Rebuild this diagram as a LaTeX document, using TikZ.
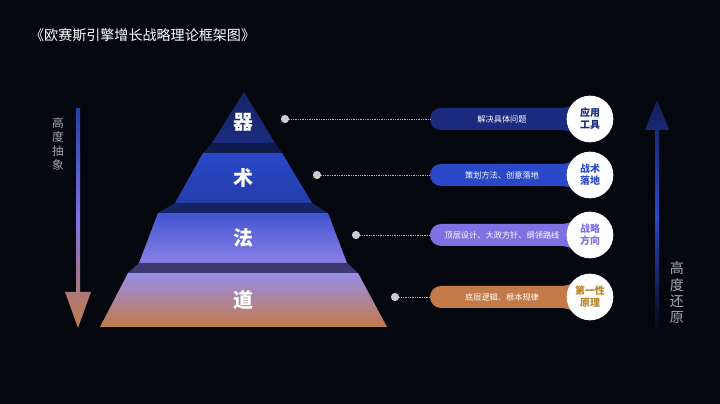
\documentclass[tikz,border=0pt]{standalone}
\usepackage{fontspec}
\setmainfont{Noto Sans CJK SC}
\usetikzlibrary{positioning}
\definecolor{bgc}{HTML}{05070F}
\definecolor{navy}{HTML}{1B2C80}
\definecolor{blu}{HTML}{2A48C8}
\definecolor{purp}{HTML}{7C72E4}
\definecolor{ochre}{HTML}{C47A48}
\definecolor{gold}{HTML}{B8862A}
\tikzset{
  layertxt/.style={text=white,font=\bfseries\fontsize{17}{17}\selectfont},
  dotnode/.style={circle,fill=gray!40,inner sep=0pt,minimum size=7pt},
  pilltxt/.style={text=white,font=\fontsize{7}{8}\selectfont},
  roundlab/.style={circle,fill=white,minimum size=1.4cm,inner sep=0pt,align=center,font=\bfseries\fontsize{8.5}{10}\selectfont},
  link/.style={gray!60,densely dotted,line width=0.5pt},
  gap/.style={fill=black,opacity=0.45}
}
\begin{document}
\begin{tikzpicture}[x=0.03cm,y=0.03cm]
  \fill[bgc] (0,0) rectangle (720,404);
  \useasboundingbox (0,0) rectangle (720,404);

  % title
  \node[anchor=west,text=white,font=\fontsize{12}{12}\selectfont] (title) at (26,369) {《欧赛斯引擎增长战略理论框架图》};

  % pyramid layers
  \shade[top color=navy!80!black,bottom color=navy] (244,312) -- (275,261) -- (212,261) -- cycle;
  \shade[top color=blu,bottom color=blu!85!black] (203,251) -- (282,251) -- (312,201) -- (175,201) -- cycle;
  \shade[top color=blu!70!purp,bottom color=purp!90!white] (158,191) -- (328,191) -- (347,141) -- (139,141) -- cycle;
  \shade[top color=purp!80!white,bottom color=ochre] (128,131) -- (358,131) -- (387,77) -- (100,77) -- cycle;
  % shadows between layers
  \fill[navy!60!black] (212,261) -- (275,261) -- (282,251) -- (203,251) -- cycle;
  \fill[blu!50!black] (175,201) -- (312,201) -- (328,191) -- (158,191) -- cycle;
  \fill[purp!50!black] (139,141) -- (347,141) -- (358,131) -- (128,131) -- cycle;

  \node[layertxt] (qi) at (243,282) {器};
  \node[layertxt] (shu) at (243,226) {术};
  \node[layertxt] (fa) at (243,166) {法};
  \node[layertxt] (dao) at (243,104) {道};

  % right side labels
  \foreach \name/\px/\py/\col/\txt/\lab/\labcol in {
      a/285/285/navy/解决具体问题/应用\\工具/navy,
      b/317/229/blu/策划方法、创意落地/战术\\落地/blu,
      c/356/169/purp/顶层设计、大政方针、纲领路线/战略\\方向/purp,
      d/395/107/ochre/底层逻辑、根本规律/第一性\\原理/gold}{
    \fill[\col] (441,\py+11) -- (560,\py+11) .. controls (572,\py+11) and (575,\py+17) .. (590,\py+19)
      -- (590,\py-19) .. controls (575,\py-17) and (572,\py-11) .. (560,\py-11)
      -- (441,\py-11) arc (270:90:11) -- cycle;
    \node[pilltxt] (p\name) at (502,\py) {\txt};
    \coordinate (e\name) at (430,\py);
    \node[dotnode] (d\name) at (\px,\py) {};
    \draw[link] (d\name) -- (e\name);
    \node[roundlab,text=\labcol] (c\name) at (590,\py) {\lab};
  }

  % left arrow
  \shade[top color=blu!60!navy,bottom color=ochre,middle color=purp]
    (76,296) -- (80,296) -- (80,112) -- (91,112) -- (78,76) -- (65,112) -- (76,112) -- cycle;
  \node[text=gray!70,align=center,font=\fontsize{10}{12}\selectfont] (abs) at (58,260) {高\\度\\抽\\象};

  % right arrow
  \shade[top color=navy!70!black,bottom color=bgc,middle color=blu]
    (655,72) -- (659,72) -- (659,274) -- (669,274) -- (657,304) -- (645,274) -- (655,274) -- cycle;
  \node[text=gray!70,align=center,font=\fontsize{12}{14}\selectfont] (conc) at (677,111) {高\\度\\还\\原};
\end{tikzpicture}
\end{document}
